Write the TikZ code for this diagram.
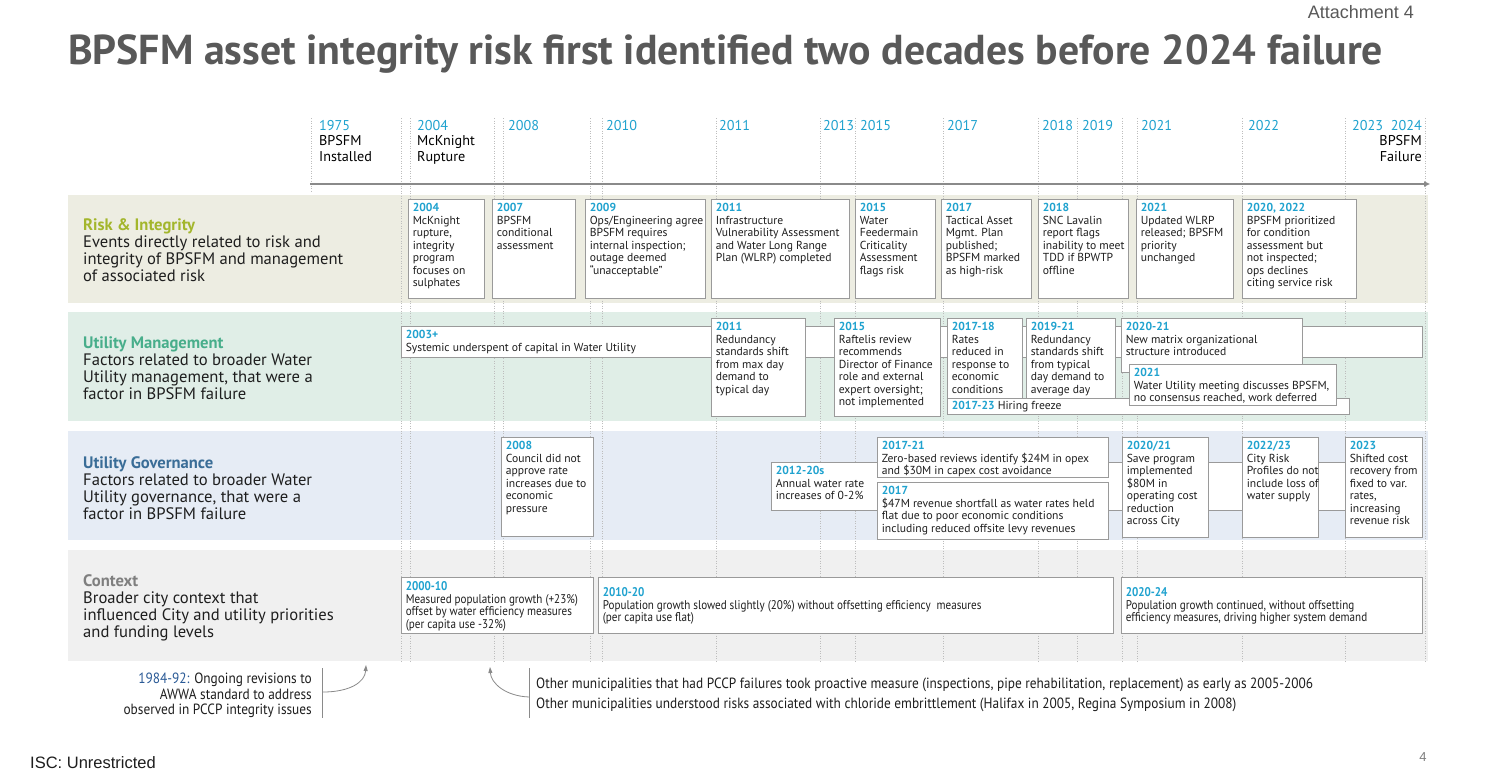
\documentclass[tikz,border=0pt]{standalone}
\usepackage{fontspec}
\setmainfont{PT Sans}
\newfontfamily\titlefont{PT Sans}
\newfontfamily\narrowfont[FakeStretch=0.88]{PT Sans}
\newfontfamily\notefont[FakeStretch=0.9]{PT Sans}
\newfontfamily\arialfont{Liberation Sans}
\usetikzlibrary{fit,arrows.meta}
\definecolor{yearblue}{HTML}{1FA2CF}
\definecolor{titlegray}{HTML}{595959}
\definecolor{bodytext}{HTML}{1E1E1E}
\definecolor{boxgray}{HTML}{9A9A9A}
\definecolor{riskbg}{HTML}{EDEDE2}
\definecolor{mgmtbg}{HTML}{E0EEE7}
\definecolor{govbg}{HTML}{E6ECF5}
\definecolor{ctxbg}{HTML}{F0F0F0}
\definecolor{riskc}{HTML}{A3B62C}
\definecolor{mgmtc}{HTML}{48AE8B}
\definecolor{govc}{HTML}{3A6D97}
\definecolor{ctxc}{HTML}{7F7F7F}
\definecolor{dotgray}{HTML}{BDBDBD}
\definecolor{axisgray}{HTML}{8A8A8A}
\definecolor{darkblue}{HTML}{2A5A96}
\newcommand\yrlbl[1]{{\color{yearblue}\bfseries #1}}
\newcommand\evbx[7][]{%
  \node[evbox, fit={(#3,#4)(#5,#6)}] (#2) {};
  \node[evtext,#1] (#2-t) at ([xshift=5pt,yshift=-4.5pt]#2.north west) {#7};}
\tikzset{
  evbox/.style={draw=boxgray, fill=white, line width=0.8pt, inner sep=0pt},
  evtext/.style={anchor=north west, inner sep=0pt, align=left, text=bodytext,
    font=\fontsize{11.6}{12.5}\selectfont},
  ctxtext/.style={font=\narrowfont\fontsize{12.6}{12.8}\selectfont},
  band/.style={draw=none, inner sep=0pt},
  rowlabel/.style={anchor=north west, inner sep=0pt, align=left, text=bodytext,
    font=\fontsize{16.6}{17}\selectfont},
  hdr/.style={anchor=north west, inner sep=0pt, align=left, text=black,
    font=\fontsize{14.2}{15.5}\selectfont},
  dotline/.style={draw=dotgray, line width=0.7pt, dash pattern=on 1pt off 1.5pt},
  axisline/.style={draw=axisgray, line width=1.8pt, -{Triangle[length=6pt,width=5pt]}},
  noteline/.style={draw=axisgray, line width=0.7pt},
  notearrow/.style={draw=axisgray, line width=0.8pt, -{Triangle[length=6pt,width=4pt]}},
  notetext/.style={inner sep=0pt, text=bodytext, font=\notefont\fontsize{14.8}{15.5}\selectfont}
}
\begin{document}
\begin{tikzpicture}[x=1pt,y=-1pt]
\useasboundingbox (0,0) rectangle (1511,776);
\fill[white] (0,0) rectangle (1511,776);

% title area
\node[anchor=north east, inner sep=0pt, text=titlegray, font=\arialfont\fontsize{18}{20}\selectfont] (attach) at (1414,5) {Attachment 4};
\node[anchor=base west, inner sep=0pt, text=titlegray, font=\titlefont\bfseries\fontsize{41.8}{44}\selectfont] (title) at (68,64) {BPSFM asset integrity risk first identified two decades before 2024 failure};

% bands
\node[band, fill=riskbg, fit={(68,195)(1428,303)}] (bandrisk) {};
\node[band, fill=mgmtbg, fit={(68,312)(1428,421)}] (bandmgmt) {};
\node[band, fill=govbg, fit={(68,431)(1428,540)}] (bandgov) {};
\node[band, fill=ctxbg, fit={(68,550)(1428,661)}] (bandctx) {};

% dotted year lines
\draw[dotline] (311,118) -- (311,192);
\foreach \xx in {401,410,494,503,590,602,716,820,855,943,1038,1077,1122,1137,1242,1345,1425}{
  \draw[dotline] (\xx,118) -- (\xx,663);
}

% axis
\coordinate (axstart) at (310,184);
\coordinate (axend) at (1430,184);
\draw[axisline] (axstart) -- (axend);

% header labels
\node[hdr] (h1975) at (319,120) {{\color{yearblue}1975}\\BPSFM\\Installed};
\node[hdr] (h2004) at (417,120) {{\color{yearblue}2004}\\McKnight\\Rupture};
\foreach \yy/\xx in {2008/508,2010/606,2011/719,2013/823,2015/860,2017/947,2018/1042,2019/1082,2021/1141,2022/1248,2023/1352}{
  \node[hdr, text=yearblue] (h\yy) at (\xx,120) {\yy};
}
\node[hdr, anchor=north east, align=right] (h2024) at (1422,120) {{\color{yearblue}2024}\\BPSFM\\Failure};

% row labels
\node[rowlabel] (lrisk) at (83,218) {{\color{riskc}\bfseries Risk \& Integrity}\\Events directly related to risk and\\integrity of BPSFM and management\\of associated risk};
\node[rowlabel] (lmgmt) at (83,336) {{\color{mgmtc}\bfseries Utility Management}\\Factors related to broader Water\\Utility management, that were a\\factor in BPSFM failure};
\node[rowlabel] (lgov) at (83,456) {{\color{govc}\bfseries Utility Governance}\\Factors related to broader Water\\Utility governance, that were a\\factor in BPSFM failure};
\node[rowlabel] (lctx) at (83,574) {{\color{ctxc}\bfseries Context}\\Broader city context that\\influenced City and utility priorities\\and funding levels};

% risk & integrity boxes
\evbx{r2004}{408}{199}{484}{298}{\yrlbl{2004}\\McKnight\\rupture,\\integrity\\program\\focuses on\\sulphates}
\evbx{r2007}{492}{199}{575}{298}{\yrlbl{2007}\\BPSFM\\conditional\\assessment}
\evbx{r2009}{585}{199}{705}{298}{\yrlbl{2009}\\Ops/Engineering agree\\BPSFM requires\\internal inspection;\\outage deemed\\“unacceptable”}
\evbx{r2011}{711}{199}{849}{298}{\yrlbl{2011}\\Infrastructure\\Vulnerability Assessment\\and Water Long Range\\Plan (WLRP) completed}
\evbx{r2015}{855}{199}{935}{298}{\yrlbl{2015}\\Water\\Feedermain\\Criticality\\Assessment\\flags risk}
\evbx{r2017}{941}{199}{1031}{298}{\yrlbl{2017}\\Tactical Asset\\Mgmt. Plan\\published;\\BPSFM marked\\as high-risk}
\evbx{r2018}{1038}{199}{1128}{298}{\yrlbl{2018}\\SNC Lavalin\\report flags\\inability to meet\\TDD if BPWTP\\offline}
\evbx{r2021}{1136}{199}{1233}{298}{\yrlbl{2021}\\Updated WLRP\\released; BPSFM\\priority\\unchanged}
\evbx{r2022}{1242}{199}{1356}{298}{\yrlbl{2020, 2022}\\BPSFM prioritized\\for condition\\assessment but\\not inspected;\\ops declines\\citing service risk}

% utility management boxes
\evbx{m2003}{401}{326}{1422}{357}{\yrlbl{2003+}\\Systemic underspent of capital in Water Utility}
\evbx{m2011}{711}{318}{805}{416}{\yrlbl{2011}\\Redundancy\\standards shift\\from max day\\demand to\\typical day}
\evbx{m2015}{834}{318}{940}{416}{\yrlbl{2015}\\Raftelis review\\recommends\\Director of Finance\\role and external\\expert oversight;\\not implemented}
\evbx{m2017}{947}{318}{1022}{410}{\yrlbl{2017-18}\\Rates\\reduced in\\response to\\economic\\conditions}
\evbx{m2019}{1026}{318}{1115}{410}{\yrlbl{2019-21}\\Redundancy\\standards shift\\from typical\\day demand to\\average day}
\evbx{m2020}{1121}{318}{1302}{372}{\yrlbl{2020-21}\\New matrix organizational\\structure introduced}
\evbx[yshift=1.5pt]{mhire}{947}{398}{1349}{414}{\yrlbl{2017-23} Hiring freeze}
\evbx{m2021}{1129}{364}{1336}{405}{\yrlbl{2021}\\Water Utility meeting discusses BPSFM,\\no consensus reached, work deferred}

% utility governance boxes
\evbx{g2008}{501}{437}{593}{536}{\yrlbl{2008}\\Council did not\\approve rate\\increases due to\\economic\\pressure}
\evbx{g2012}{771}{462}{1422}{510}{\yrlbl{2012-20s}\\Annual water rate\\increases of 0-2\%}
\evbx{g2017a}{877}{437}{1108}{477}{\yrlbl{2017-21}\\Zero-based reviews identify \$24M in opex\\and \$30M in capex cost avoidance}
\evbx{g2017b}{877}{482}{1108}{539}{\yrlbl{2017}\\\$47M revenue shortfall as water rates held\\flat due to poor economic conditions\\including reduced offsite levy revenues}
\evbx{g2020}{1122}{437}{1208}{537}{\yrlbl{2020/21}\\Save program\\implemented\\\$80M in\\operating cost\\reduction\\across City}
\evbx{g2022}{1242}{437}{1318}{537}{\yrlbl{2022/23}\\City Risk\\Profiles do not\\include loss of\\water supply}
\evbx{g2023}{1345}{437}{1422}{537}{\yrlbl{2023}\\Shifted cost\\recovery from\\fixed to var.\\rates,\\increasing\\revenue risk}

% context boxes
\evbx[ctxtext]{c2000}{401}{577}{593}{633}{\yrlbl{2000-10}\\Measured population growth (+23\%)\\offset by water efficiency measures\\(per capita use -32\%)}
\evbx[ctxtext,yshift=-6pt]{c2010}{598}{577}{1113}{633}{\yrlbl{2010-20}\\Population growth slowed slightly (20\%) without offsetting efficiency\ \ measures\\(per capita use flat)}
\evbx[ctxtext,yshift=-6pt]{c2020}{1121}{577}{1422}{633}{\yrlbl{2020-24}\\Population growth continued, without offsetting\\efficiency measures, driving higher system demand}

% bottom notes
\node[notetext, anchor=north east, align=right] (note1) at (312,673) {{\color{darkblue}1984-92:} Ongoing revisions to\\AWWA standard to address\\observed in PCCP integrity issues};
\coordinate (n1top) at (322,668);
\coordinate (n1bot) at (322,718);
\draw[noteline] (n1top) -- (n1bot);
\coordinate (a1s) at (323,692);
\coordinate (a1e) at (366,665);
\draw[notearrow] (a1s) .. controls (350,692) and (365,682) .. (a1e);

\coordinate (n2top) at (529,668);
\coordinate (n2bot) at (529,718);
\draw[noteline] (n2top) -- (n2bot);
\coordinate (a2s) at (529,697);
\coordinate (a2e) at (490,667);
\draw[notearrow] (a2s) .. controls (505,696) and (491,683) .. (a2e);
\node[notetext, anchor=west] (note2) at (536,685) {Other municipalities that had PCCP failures took proactive measure (inspections, pipe rehabilitation, replacement) as early as 2005-2006};
\node[notetext, anchor=west] (note3) at (536,705) {Other municipalities understood risks associated with chloride embrittlement (Halifax in 2005, Regina Symposium in 2008)};

% footer
\node[anchor=west, inner sep=0pt, text=bodytext, font=\arialfont\fontsize{16.5}{18}\selectfont] (isc) at (30,763) {ISC: Unrestricted};
\node[anchor=center, inner sep=0pt, text=ctxc, font=\arialfont\fontsize{13}{15}\selectfont] (pageno) at (1423,757) {4};
\end{tikzpicture}
\end{document}
